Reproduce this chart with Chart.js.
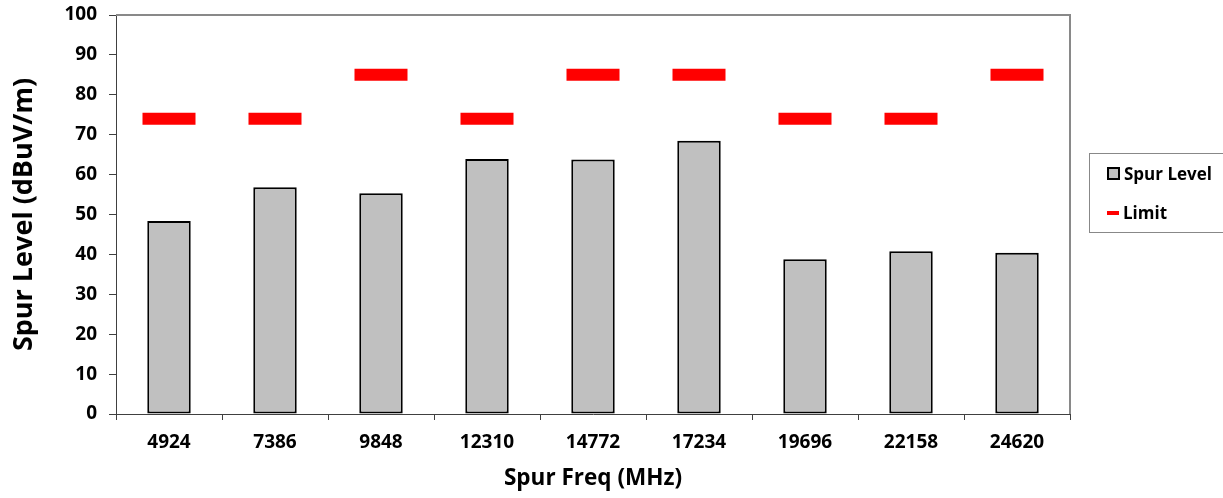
<!DOCTYPE html>
<html>
<head>
<meta charset="utf-8">
<script src="https://cdn.jsdelivr.net/npm/chart.js@4/dist/chart.umd.min.js"></script>
<style>
  body { margin: 0; background: #fff; }
  #wrap { position: relative; width: 1223px; height: 498px; }
  #legend {
    position: absolute; left: 1089px; top: 153px; width: 140px; height: 80px;
    border: 1px solid #888; box-sizing: border-box; font: bold 17px "Open Sans", sans-serif; color: #000;
  }
  .item { position: absolute; left: 17px; display: flex; align-items: center; }
  .sw { width: 9px; height: 9px; border: 2px solid #000; background: #c0c0c0; margin-right: 4px; }
  .dash { width: 12px; height: 4px; background: #f00; margin-right: 4px; }
</style>
</head>
<body>
<div id="wrap">
  <canvas id="chart"></canvas>
  <div id="legend"></div>
</div>
<script>
const freqs = ['4924', '7386', '9848', '12310', '14772', '17234', '19696', '22158', '24620'];
const spurLevel = [48.4, 56.8, 55.3, 63.9, 63.8, 68.5, 38.8, 40.8, 40.4];
const limit = [74, 74, 85, 74, 85, 85, 74, 74, 85];
const yTicks = [0, 10, 20, 30, 40, 50, 60, 70, 80, 90, 100];

const font = '"Open Sans", sans-serif';

// gray frame on top and right of the plot
const frame = {
    id: 'frame',
    afterDraw(chart) {
        const { ctx, chartArea: a } = chart;
        ctx.save();
        ctx.strokeStyle = '#898989';
        ctx.lineWidth = 2;
        ctx.beginPath();
        ctx.moveTo(a.left, a.top);
        ctx.lineTo(a.right, a.top);
        ctx.lineTo(a.right, a.bottom);
        ctx.stroke();
        ctx.restore();
    }
};

const ctx = document.getElementById('chart');
const chart = new Chart(ctx, {
    type: 'bar',
    data: {
        labels: freqs,
        datasets: [{
            label: 'Spur Level',
            data: spurLevel,
            backgroundColor: '#c0c0c0',
            borderColor: '#000',
            borderWidth: 2,
            borderSkipped: false,
            categoryPercentage: 1,
            barPercentage: 0.41,
            order: 2
        }, {
            type: 'line',
            label: 'Limit',
            data: limit,
            showLine: false,
            pointStyle: 'line',
            pointRadius: 26.5,
            pointHoverRadius: 26.5,
            pointBorderWidth: 12,
            pointHoverBorderWidth: 12,
            borderColor: '#ff0000',
            backgroundColor: '#ff0000',
            order: 1
        }]
    },
    options: {
        responsive: true,
        maintainAspectRatio: false,
        animation: false,
        layout: { autoPadding: false, padding: { top: 15, right: 153, left: 0, bottom: 0 } },
        plugins: {
            legend: { display: false },
            tooltip: { enabled: false }
        },
        scales: {
            x: {
                afterFit(s) { s.height = 84; s.paddingLeft = 0; s.paddingRight = 0; },
                grid: { drawOnChartArea: false, offset: true, tickLength: 6, color: '#404040' },
                border: { color: '#404040', width: 1 },
                ticks: { color: '#000', font: { family: font, size: 19, weight: 'bold' }, padding: 11 },
                title: {
                    display: true, text: 'Spur Freq (MHz)', color: '#000',
                    font: { family: font, size: 22.5, weight: 'bold' }, padding: { top: 0, bottom: 6 }
                }
            },
            y: {
                min: 0, max: 100,
                afterFit(s) { s.width = 116; s.paddingTop = 0; s.paddingBottom = 0; },
                afterBuildTicks(s) { s.ticks = yTicks.map(v => ({ value: v })); },
                grid: { drawOnChartArea: false, tickLength: 7, color: '#404040' },
                border: { color: '#404040', width: 1 },
                ticks: { color: '#000', font: { family: font, size: 19, weight: 'bold' }, padding: 12 },
                title: {
                    display: true, text: 'Spur Level (dBuV/m)', color: '#000',
                    font: { family: font, size: 27, weight: 'bold' }, padding: { top: 8, bottom: 0 }
                }
            }
        }
    },
    plugins: [frame]
});

// legend built from the datasets
const legend = document.getElementById('legend');
chart.data.datasets.forEach((ds, i) => {
    const item = document.createElement('div');
    item.className = 'item';
    item.style.top = (i === 0 ? 8 : 47) + 'px';
    const mark = document.createElement('span');
    mark.className = ds.type === 'line' ? 'dash' : 'sw';
    item.appendChild(mark);
    item.appendChild(document.createTextNode(ds.label));
    legend.appendChild(item);
});
</script>
</body>
</html>
